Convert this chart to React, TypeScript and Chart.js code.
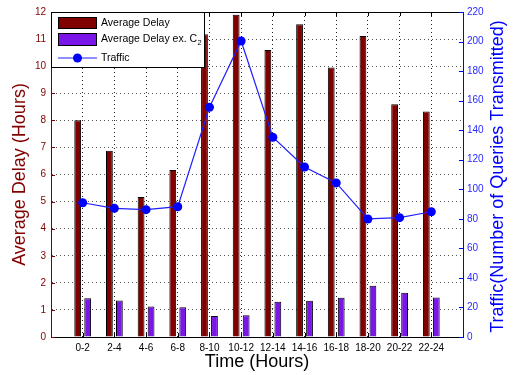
import React, { useEffect, useRef } from 'react';
import { Chart, registerables } from 'chart.js';

Chart.register(...registerables);

const timeSlots = ['0-2', '2-4', '4-6', '6-8', '8-10', '10-12', '12-14', '14-16', '16-18', '18-20', '20-22', '22-24'];
const averageDelay = [8.0, 6.88, 5.17, 6.17, 11.18, 11.9, 10.6, 11.55, 9.95, 11.11, 8.59, 8.33];
const averageDelayExC2 = [1.43, 1.35, 1.13, 1.1, 0.78, 0.8, 1.3, 1.34, 1.45, 1.89, 1.63, 1.46];
const traffic = [90.9, 87.1, 86.2, 88.2, 155.5, 200.4, 135.2, 115.1, 104.3, 79.9, 80.8, 84.8];

const delayMax = 12;
const delayStep = 1;
const trafficMax = 220;
const trafficStep = 20;

const xTitle = 'Time (Hours)';
const leftTitle = 'Average Delay (Hours)';
const rightTitle = 'Traffic(Number of Queries Transmitted)';
const legendDelay = 'Average Delay';
const legendExC = 'Average Delay ex. C';
const legendExSub = '2';
const legendTraffic = 'Traffic';

const FONT = "'Liberation Sans', Arial, Helvetica, sans-serif";
const DARK_RED = '#800000';
const PURPLE = '#7B16E8';
const BLUE = '#0000FF';

const customPlugin = {
  id: 'customDecor',
  afterDraw(chart: any) {
    const ctx = chart.ctx as CanvasRenderingContext2D;
    const { left, right, top, bottom } = chart.chartArea;
    const ys = chart.scales.y;
    const y1 = chart.scales.y1;
    const xs = chart.scales.x;
    ctx.save();
    // top border
    ctx.strokeStyle = '#000';
    ctx.lineWidth = 1;
    ctx.beginPath();
    ctx.moveTo(left, Math.round(top) + 0.5);
    ctx.lineTo(right, Math.round(top) + 0.5);
    ctx.stroke();
    // inward ticks left
    ctx.strokeStyle = DARK_RED;
    ys.ticks.forEach((t: any) => {
      const py = Math.round(ys.getPixelForValue(t.value)) + 0.5;
      ctx.beginPath();
      ctx.moveTo(left, py);
      ctx.lineTo(left + 4, py);
      ctx.stroke();
    });
    ctx.strokeStyle = BLUE;
    y1.ticks.forEach((t: any) => {
      const py = Math.round(y1.getPixelForValue(t.value)) + 0.5;
      ctx.beginPath();
      ctx.moveTo(right, py);
      ctx.lineTo(right - 4, py);
      ctx.stroke();
    });
    ctx.strokeStyle = '#000';
    for (let i = 1; i < xs.ticks.length - 1; i++) {
      const px = Math.round(xs.getPixelForTick(i)) + 0.5;
      ctx.beginPath();
      ctx.moveTo(px, bottom);
      ctx.lineTo(px, bottom - 4);
      ctx.moveTo(px, top);
      ctx.lineTo(px, top + 4);
      ctx.stroke();
    }
    // titles
    ctx.font = `18px ${FONT}`;
    ctx.textAlign = 'center';
    ctx.textBaseline = 'middle';
    ctx.fillStyle = '#000';
    ctx.fillText(xTitle, (left + right) / 2, 362);
    ctx.save();
    ctx.translate(20, (top + bottom) / 2);
    ctx.rotate(-Math.PI / 2);
    ctx.fillStyle = DARK_RED;
    ctx.fillText(leftTitle, 0, 0);
    ctx.restore();
    ctx.save();
    ctx.translate(498, (top + bottom) / 2 + 2);
    ctx.rotate(-Math.PI / 2);
    ctx.fillStyle = BLUE;
    ctx.fillText(rightTitle, 0, 0);
    ctx.restore();
    // legend
    const lx = left + 0.5;
    const ly = top + 0.5;
    ctx.fillStyle = '#fff';
    ctx.fillRect(lx, ly, 153, 55);
    ctx.strokeStyle = '#000';
    ctx.strokeRect(lx, ly, 153, 55);
    ctx.fillStyle = DARK_RED;
    ctx.fillRect(58.5, 17.5, 38, 11);
    ctx.strokeRect(58.5, 17.5, 38, 11);
    ctx.fillStyle = PURPLE;
    ctx.fillRect(58.5, 33.5, 38, 12);
    ctx.strokeRect(58.5, 33.5, 38, 12);
    ctx.strokeStyle = '#1f1fff';
    ctx.beginPath();
    ctx.moveTo(58, 58);
    ctx.lineTo(97, 58);
    ctx.stroke();
    ctx.fillStyle = BLUE;
    ctx.beginPath();
    ctx.arc(77.5, 58, 4.5, 0, Math.PI * 2);
    ctx.fill();
    ctx.fillStyle = '#000';
    ctx.textAlign = 'left';
    ctx.font = `10.5px ${FONT}`;
    ctx.fillText(legendDelay, 101, 23);
    ctx.fillText(legendExC, 101, 39);
    const w = ctx.measureText(legendExC).width;
    ctx.font = `7.5px ${FONT}`;
    ctx.fillText(legendExSub, 101 + w + 0.5, 43);
    ctx.font = `10.5px ${FONT}`;
    ctx.fillText(legendTraffic, 101, 58);
    ctx.restore();
  },
};

export default function App() {
  const ref = useRef<HTMLCanvasElement>(null);
  useEffect(() => {
    Chart.defaults.font.family = FONT;
    const labels = ['', ...timeSlots, ''];
    const pad = (a: number[]) => [null, ...a, null];
    const chart = new Chart(ref.current as HTMLCanvasElement, {
      type: 'bar',
      data: {
        labels,
        datasets: [
          {
            type: 'line',
            label: legendTraffic,
            data: pad(traffic),
            yAxisID: 'y1',
            borderColor: '#1f1fff',
            borderWidth: 1.2,
            pointRadius: 4.5,
            pointBackgroundColor: BLUE,
            pointBorderColor: BLUE,
            pointBorderWidth: 0,
            tension: 0,
            order: 0,
          } as any,
          {
            type: 'bar',
            label: legendDelay,
            data: pad(averageDelay),
            yAxisID: 'y',
            backgroundColor: DARK_RED,
            borderColor: '#000',
            borderWidth: 1,
            categoryPercentage: 0.63,
            barPercentage: 0.68,
            order: 1,
          } as any,
          {
            type: 'bar',
            label: legendExC + legendExSub,
            data: pad(averageDelayExC2),
            yAxisID: 'y',
            backgroundColor: PURPLE,
            borderColor: '#000',
            borderWidth: 1,
            categoryPercentage: 0.63,
            barPercentage: 0.68,
            order: 1,
          } as any,
        ],
      },
      options: {
        responsive: false,
        animation: false,
        layout: { padding: { top: 12, left: 0, right: 0, bottom: 0 }, autoPadding: false },
        plugins: { legend: { display: false }, tooltip: { enabled: false } },
        scales: {
          x: {
            type: 'category',
            offset: false,
            grid: {
              offset: false,
              drawTicks: false,
              color: (c: any) => (c.index > 0 && c.index < labels.length - 1 ? '#222' : 'rgba(0,0,0,0)'),
            },
            border: { color: '#000', width: 1, dash: [1, 3] },
            ticks: { color: '#000', font: { size: 10 }, padding: 5, autoSkip: false, maxRotation: 0 },
            afterFit: (s: any) => {
              s.height = 38;
            },
          },
          y: {
            position: 'left',
            min: 0,
            max: delayMax,
            ticks: { stepSize: delayStep, color: DARK_RED, font: { size: 10 }, padding: 5 },
            grid: {
              drawTicks: false,
              color: (c: any) => (c.tick && c.tick.value > 0 && c.tick.value < delayMax ? '#555' : 'rgba(0,0,0,0)'),
            },
            border: { color: DARK_RED, width: 1, dash: [1, 3] },
            afterFit: (s: any) => {
              s.width = 51;
            },
          },
          y1: {
            position: 'right',
            min: 0,
            max: trafficMax,
            ticks: { stepSize: trafficStep, color: '#2a2aff', font: { size: 10 }, padding: 4 },
            grid: { drawOnChartArea: false, drawTicks: false },
            border: { color: BLUE, width: 1 },
            afterFit: (s: any) => {
              s.width = 52;
            },
          },
        },
      } as any,
      plugins: [customPlugin],
    });
    return () => chart.destroy();
  }, []);
  return (
    <div style={{ position: 'absolute', left: 0, top: 0, width: 515, height: 375, background: '#fff' }}>
      <canvas ref={ref} width={515} height={375} style={{ display: 'block' }} />
    </div>
  );
}
